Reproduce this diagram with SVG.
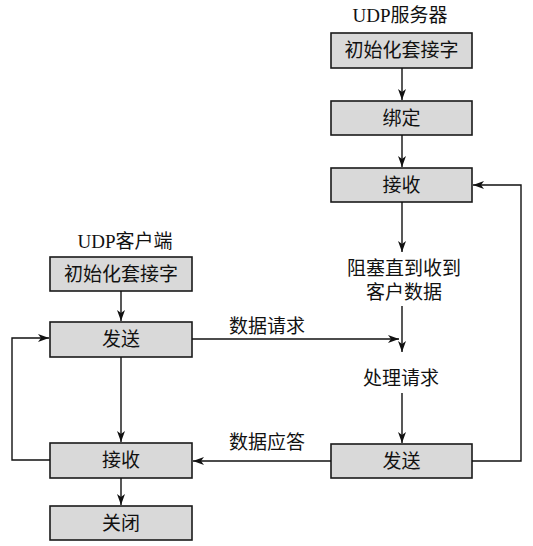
<svg xmlns="http://www.w3.org/2000/svg" width="533" height="546" viewBox="0 0 533 546">
<style>
.box{fill:#d9d9d9;stroke:#1a1a1a;stroke-width:1.6}
.t{font-family:"Liberation Serif","Noto Sans CJK SC",serif;font-size:19px;fill:#111;text-anchor:middle}
.c{fill:none;stroke:#111;stroke-width:1.4}
</style>
<defs>
<marker id="ah" markerWidth="12" markerHeight="8" refX="11" refY="4" orient="auto" markerUnits="userSpaceOnUse">
<path d="M0,0 L11,4 L0,8 L3,4 Z" fill="#111"/>
</marker>
</defs>
<rect width="533" height="546" fill="#fff"/>
<text class="t" x="400" y="22">UDP服务器</text>
<text class="t" x="125" y="248">UDP客户端</text>
<g id="s_init"><rect class="box" x="331" y="33" width="141" height="35"/><text class="t" x="401.5" y="57">初始化套接字</text></g>
<g id="s_bind"><rect class="box" x="331" y="101" width="141" height="34"/><text class="t" x="401.5" y="125">绑定</text></g>
<g id="s_recv"><rect class="box" x="331" y="168" width="141" height="34"/><text class="t" x="401.5" y="192">接收</text></g>
<g id="s_block"><text class="t" x="404" y="275">阻塞直到收到</text><text class="t" x="404" y="299">客户数据</text></g>
<g id="s_proc"><text class="t" x="401" y="385">处理请求</text></g>
<g id="s_send"><rect class="box" x="331" y="444" width="141" height="34"/><text class="t" x="401.5" y="468">发送</text></g>
<g id="c_init"><rect class="box" x="50" y="257" width="142" height="34"/><text class="t" x="121" y="281">初始化套接字</text></g>
<g id="c_send"><rect class="box" x="50" y="322" width="142" height="35"/><text class="t" x="121" y="346">发送</text></g>
<g id="c_recv"><rect class="box" x="50" y="443" width="142" height="35"/><text class="t" x="121" y="467">接收</text></g>
<g id="c_close"><rect class="box" x="50" y="506" width="142" height="34"/><text class="t" x="121" y="530">关闭</text></g>
<g id="connectors">
<path class="c" d="M402,68 V100" marker-end="url(#ah)"/>
<path class="c" d="M402,135 V167" marker-end="url(#ah)"/>
<path class="c" d="M402,202 V252" marker-end="url(#ah)"/>
<path class="c" d="M402,306 V352" marker-end="url(#ah)"/>
<path class="c" d="M402,393 V443" marker-end="url(#ah)"/>
<path class="c" d="M472,461 H521 V185 H473" marker-end="url(#ah)"/>
<path class="c" d="M331,461 H193" marker-end="url(#ah)"/>
<path class="c" d="M192,339 H399" marker-end="url(#ah)"/>
<path class="c" d="M121,291 V321" marker-end="url(#ah)"/>
<path class="c" d="M121,357 V442" marker-end="url(#ah)"/>
<path class="c" d="M121,478 V505" marker-end="url(#ah)"/>
<path class="c" d="M50,460 H12 V338 H49" marker-end="url(#ah)"/>
<text class="t" x="267" y="333">数据请求</text>
<text class="t" x="267" y="449">数据应答</text>
</g>
</svg>
